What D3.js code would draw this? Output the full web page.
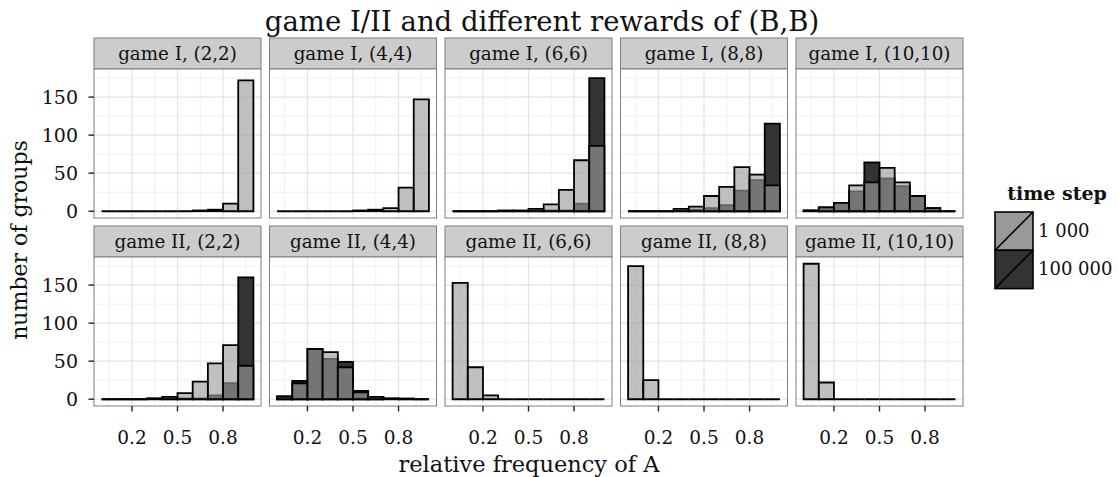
<!DOCTYPE html>
<html>
<head>
<meta charset="utf-8">
<script src="https://cdn.jsdelivr.net/npm/d3@7"></script>
<style>
  html, body { margin: 0; padding: 0; background: #fff; }
  svg text { font-family: "DejaVu Serif", "Liberation Serif", serif; fill: #111; }
</style>
</head>
<body>
<svg id="chart" width="1117" height="477"></svg>
<script>
// Facet labels, in reading order (two rows of five)
const facets = [
  "game I, (2,2)", "game I, (4,4)", "game I, (6,6)", "game I, (8,8)", "game I, (10,10)",
  "game II, (2,2)", "game II, (4,4)", "game II, (6,6)", "game II, (8,8)", "game II, (10,10)"
];
// Histogram bin edges on relative frequency of A
const binEdges = [0, 0.1, 0.2, 0.3, 0.4, 0.5, 0.6, 0.7, 0.8, 0.9, 1.0];
// Counts per bin at time step 1 000
const counts1000 = [
  [0, 0, 0, 0, 0, 0, 1, 2, 10, 172],
  [0, 0, 0, 0, 0, 1, 2, 4, 31, 147],
  [0, 0, 0, 1, 1, 3, 9, 28, 67, 86],
  [0, 0, 0, 3, 6, 20, 32, 58, 48, 34],
  [1, 5, 11, 34, 38, 57, 38, 20, 4, 0],
  [0, 0, 0, 1, 3, 8, 23, 47, 71, 44],
  [3, 21, 66, 62, 42, 9, 3, 1, 1, 0],
  [153, 42, 5, 0, 0, 0, 0, 0, 0, 0],
  [175, 25, 0, 0, 0, 0, 0, 0, 0, 0],
  [178, 22, 0, 0, 0, 0, 0, 0, 0, 0]
];
// Counts per bin at time step 100 000 (null: no runs of that length)
const counts100000 = [
  null,
  null,
  [0, 0, 0, 0, 0, 1, 1, 1, 10, 175],
  [0, 0, 0, 1, 2, 4, 8, 27, 41, 115],
  [1, 5, 11, 26, 64, 43, 33, 20, 4, 0],
  [0, 0, 0, 1, 1, 1, 1, 5, 21, 160],
  [4, 24, 66, 53, 49, 11, 3, 1, 0, 0],
  null,
  null,
  null
];
const stepLabels = ["1 000", "100 000"];
const xTicks = [0.2, 0.5, 0.8];
const xMinor = [0.05, 0.35, 0.65, 0.95];
const yTicks = [0, 50, 100, 150];
const yMinor = [25, 75, 125, 175];

const svg = d3.select("#chart");

// facet grid geometry
const left0 = 94, panelW = 167, colGap = 8.5;
const stripTops = [38, 226], stripH = 31, panelH = 149;

const yMax = d3.max([...counts1000, ...counts100000.filter(d => d)].flat());
const y = d3.scaleLinear()
  .domain([-0.05 * yMax, 1.05 * yMax])
  .range([panelH, 0]);

const darkFill = "#333333";
const lightFill = "#9c9c9c";
const lightOpacity = 0.637;

// bar outline as a closed path so empty bins still show as a line on the baseline
const barPath = (x, d) => {
  const x0 = x(d.x0), x1 = x(d.x1), y0 = y(0), y1 = y(d.c);
  return `M${x0},${y0}V${y1}H${x1}V${y0}Z`;
};

facets.forEach((label, i) => {
  const row = Math.floor(i / 5), col = i % 5;
  const px = left0 + col * (panelW + colGap);
  const sTop = stripTops[row];
  const pTop = sTop + stripH;
  const x = d3.scaleLinear().domain([-0.05, 1.05]).range([0, panelW]);

  // strip
  const strip = svg.append("g").attr("transform", `translate(${px},${sTop})`);
  strip.append("rect").attr("width", panelW).attr("height", stripH)
    .attr("fill", "#cccccc").attr("stroke", "#7f7f7f").attr("stroke-width", 1);
  strip.append("text").attr("x", panelW / 2).attr("y", stripH / 2 + 6)
    .attr("text-anchor", "middle").style("font-size", "18.3px").text(label);

  const g = svg.append("g").attr("transform", `translate(${px},${pTop})`);
  g.append("rect").attr("width", panelW).attr("height", panelH).attr("fill", "#fff");

  // grid
  g.selectAll(".vmin").data(xMinor).join("line")
    .attr("x1", d => x(d)).attr("x2", d => x(d)).attr("y1", 0).attr("y2", panelH)
    .attr("stroke", "#f0f0f0").attr("stroke-width", 1);
  g.selectAll(".hmin").data(yMinor).join("line")
    .attr("y1", d => y(d)).attr("y2", d => y(d)).attr("x1", 0).attr("x2", panelW)
    .attr("stroke", "#f0f0f0").attr("stroke-width", 1);
  g.selectAll(".vmaj").data(xTicks).join("line")
    .attr("x1", d => x(d)).attr("x2", d => x(d)).attr("y1", 0).attr("y2", panelH)
    .attr("stroke", "#e3e3e3").attr("stroke-width", 1.2);
  g.selectAll(".hmaj").data(yTicks).join("line")
    .attr("y1", d => y(d)).attr("y2", d => y(d)).attr("x1", 0).attr("x2", panelW)
    .attr("stroke", "#e3e3e3").attr("stroke-width", 1.2);

  const bins = (arr) => arr.map((c, k) => ({ x0: binEdges[k], x1: binEdges[k + 1], c }));

  // long run first, short run drawn over it with translucent fill
  if (counts100000[i]) {
    g.selectAll(".dark").data(bins(counts100000[i])).join("path")
      .attr("d", d => barPath(x, d))
      .attr("fill", darkFill).attr("stroke", "#000").attr("stroke-width", 1.8);
  }
  g.selectAll(".light").data(bins(counts1000[i])).join("path")
    .attr("d", d => barPath(x, d))
    .attr("fill", lightFill).attr("fill-opacity", lightOpacity)
    .attr("stroke", "#000").attr("stroke-width", 1.8);

  g.append("rect").attr("width", panelW).attr("height", panelH)
    .attr("fill", "none").attr("stroke", "#7f7f7f").attr("stroke-width", 1);

  // y axis on first column
  if (col === 0) {
    const ya = svg.append("g").attr("transform", `translate(${px},${pTop})`);
    ya.selectAll("line").data(yTicks).join("line")
      .attr("x1", -5.5).attr("x2", 0).attr("y1", d => y(d)).attr("y2", d => y(d))
      .attr("stroke", "#222").attr("stroke-width", 1.4);
    ya.selectAll("text").data(yTicks).join("text")
      .attr("x", -16).attr("y", d => y(d) + 7).attr("text-anchor", "end")
      .style("font-size", "19px").text(d => d);
  }
  // x axis on bottom row
  if (row === 1) {
    const xa = svg.append("g").attr("transform", `translate(${px},${pTop + panelH})`);
    xa.selectAll("line").data(xTicks).join("line")
      .attr("x1", d => x(d)).attr("x2", d => x(d)).attr("y1", 0).attr("y2", 5.5)
      .attr("stroke", "#222").attr("stroke-width", 1.4);
    xa.selectAll("text").data(xTicks).join("text")
      .attr("x", d => x(d)).attr("y", 38).attr("text-anchor", "middle")
      .style("font-size", "18.5px").text(d => d.toFixed(1));
  }
});

// titles
svg.append("text").attr("x", 542).attr("y", 31).attr("text-anchor", "middle")
  .style("font-size", "27.5px").text("game I/II and different rewards of (B,B)");
svg.append("text").attr("x", 529).attr("y", 472).attr("text-anchor", "middle")
  .style("font-size", "22.5px").text("relative frequency of A");
svg.append("text").attr("transform", "translate(27,240) rotate(-90)")
  .attr("text-anchor", "middle").style("font-size", "22px").text("number of groups");

// legend
const lg = svg.append("g").attr("transform", "translate(995,0)");
lg.append("text").attr("x", 62).attr("y", 200).attr("text-anchor", "middle")
  .style("font-size", "19px").style("font-weight", "bold").text("time step");
const keyFills = ["#999999", darkFill];
stepLabels.forEach((s, k) => {
  const ky = 212 + k * 38.3;
  lg.append("rect").attr("x", 0).attr("y", ky).attr("width", 38).attr("height", 38.3)
    .attr("fill", keyFills[k]).attr("stroke", "#000").attr("stroke-width", 1.6);
  lg.append("line").attr("x1", 0).attr("y1", ky + 38.3).attr("x2", 38).attr("y2", ky)
    .attr("stroke", "#000").attr("stroke-width", 1.6);
  lg.append("text").attr("x", 43).attr("y", ky + 25).style("font-size", "18px").text(s);
});
</script>
</body>
</html>
